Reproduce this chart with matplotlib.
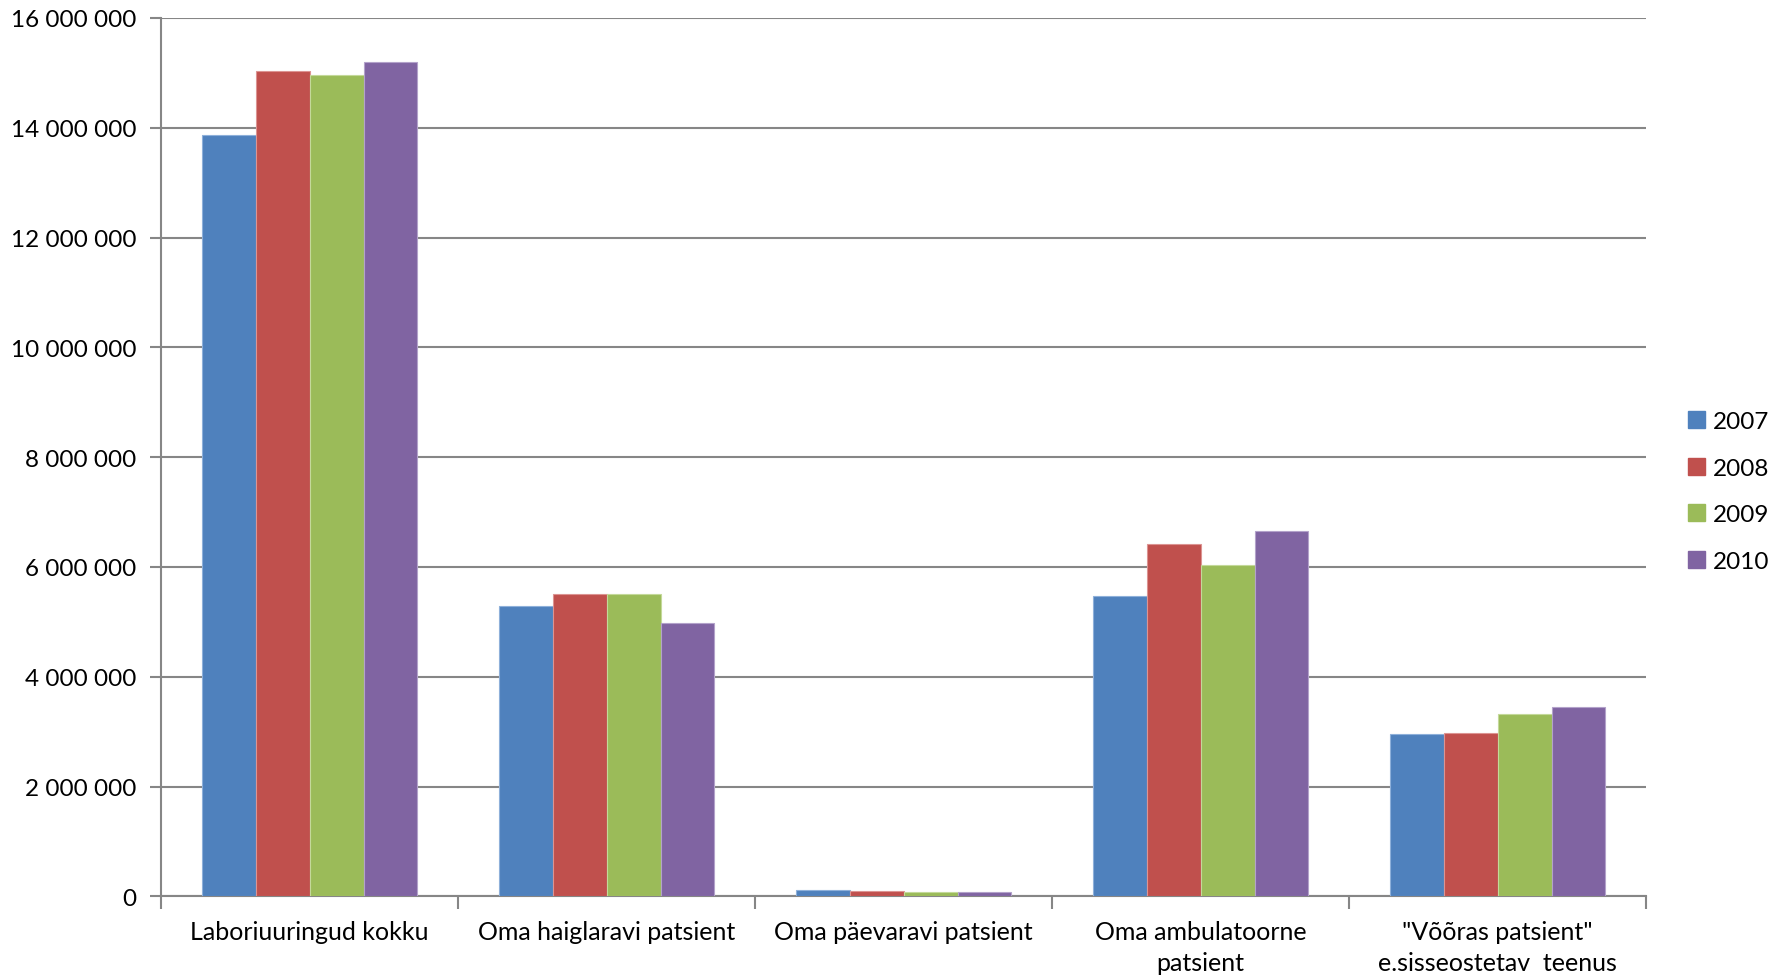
import matplotlib
matplotlib.use("Agg")
import matplotlib.pyplot as plt
from matplotlib.patches import Patch
from matplotlib.ticker import FuncFormatter, FixedLocator
import numpy as np

categories = [
    "Laboriuuringud kokku",
    "Oma haiglaravi patsient",
    "Oma päevaravi patsient",
    "Oma ambulatoorne\npatsient",
    "\"Võõras patsient\"\ne.sisseostetav  teenus",
]
years = ["2007", "2008", "2009", "2010"]
values_2007 = [13870000, 5290000, 110000, 5470000, 2960000]
values_2008 = [15030000, 5510000, 90000, 6410000, 2980000]
values_2009 = [14970000, 5510000, 75000, 6040000, 3320000]
values_2010 = [15200000, 4980000, 75000, 6660000, 3450000]
colors = ["#4F81BD", "#C0504D", "#9BBB59", "#8064A2"]
edge_colors = ["#8EB0DA", "#DC9492", "#C4D99A", "#B3A2CA"]

series = [values_2007, values_2008, values_2009, values_2010]

plt.rcParams["font.family"] = ["Lato", "DejaVu Sans"]
fig = plt.figure(figsize=(17.78, 9.79), dpi=100)
ax = fig.add_axes([0.0906, 0.0834, 0.9258 - 0.0906, 0.9806 - 0.0834])

n = len(categories)
x = np.arange(n)
bar_w = 0.1816
offsets = (np.arange(len(years)) - 1.5) * bar_w
for vals, off, c, ec in zip(series, offsets, colors, edge_colors):
    ax.bar(x + off, vals, width=bar_w, color=c, edgecolor=ec, linewidth=0.8, zorder=3)

ax.set_xlim(-0.5, n - 0.5)
ax.set_ylim(0, 16000000)

grid_c = "#868686"
ax.yaxis.set_major_locator(FixedLocator(np.arange(0, 16000001, 2000000)))
ax.yaxis.set_major_formatter(FuncFormatter(lambda v, p: f"{int(v):,}".replace(",", " ")))
ax.grid(axis="y", color=grid_c, linewidth=1.5, zorder=0)
ax.set_axisbelow(True)

for side in ("top", "right"):
    ax.spines[side].set_visible(False)
for side in ("left", "bottom"):
    ax.spines[side].set_color(grid_c)
    ax.spines[side].set_linewidth(1.5)

ax.tick_params(axis="y", length=8, width=1.5, color=grid_c, labelsize=17.5, pad=10, labelcolor="black")
ax.set_xticks(np.arange(-0.5, n, 1.0))
ax.set_xticklabels([])
ax.tick_params(axis="x", length=9, width=1.5, color=grid_c)
ax.set_xticks(x, minor=True)
ax.set_xticklabels(categories, minor=True, fontsize=18, linespacing=1.4)
ax.tick_params(axis="x", which="minor", length=0, pad=17, labelcolor="black")
for lbl in ax.get_xticklabels(minor=True):
    lbl.set_verticalalignment("top")

handles = [Patch(facecolor=c, edgecolor=c, label=y) for c, y in zip(colors, years)]
fig.legend(handles=handles, loc="center left", bbox_to_anchor=(0.9495, 0.497),
           frameon=False, fontsize=17.5, handlelength=0.7, handleheight=0.7,
           handletextpad=0.3, labelspacing=1.05, borderaxespad=0, borderpad=0)

fig.savefig("out.png", dpi=100)
